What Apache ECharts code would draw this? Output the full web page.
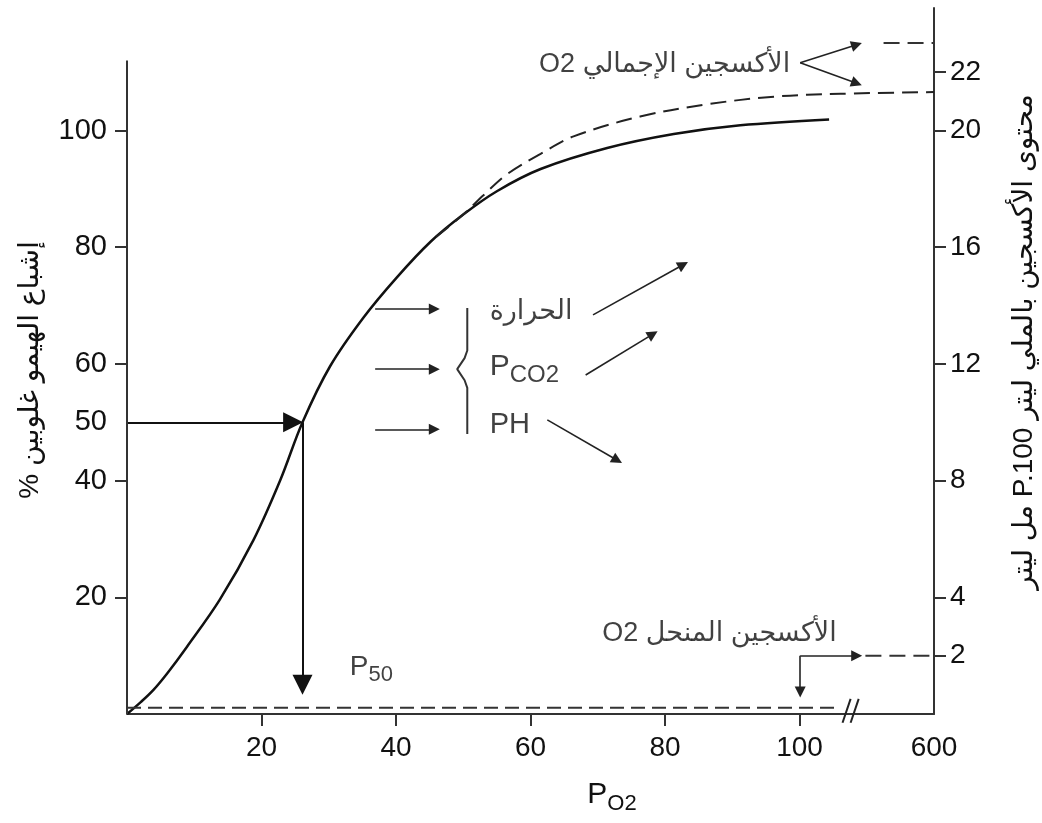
<!DOCTYPE html>
<html>
<head>
<meta charset="utf-8">
<script src="https://cdn.jsdelivr.net/npm/echarts@6/dist/echarts.min.js"></script>
<style>
html, body { margin: 0; padding: 0; background: #fff; }
#main { width: 1042px; height: 823px; }
</style>
</head>
<body>
<div id="main"></div>
<script>
// منحنى تفكك الهيموغلوبين: PO2 مقابل نسبة الإشباع %
var hbPo2 = [0, 2, 3.9, 6, 8.9, 13.8, 18.8, 22.8, 26.1, 30.2, 35.2, 40.1, 45.1, 50, 55, 61.5, 71.4, 81.3, 91.2, 104.4];
var hbSat = [0, 2.0, 4.1, 7.0, 11.5, 19.6, 29.8, 40.1, 50, 59.6, 68.0, 74.8, 80.9, 85.6, 89.6, 93.4, 97.0, 99.4, 100.9, 101.9];
// الأكسجين الإجمالي (متقطع)
var totalPo2 = [46, 50, 53, 56.5, 61.5, 66.4, 76.3, 86.3, 96.2, 106.1, 120];
var totalSat = [81.8, 85.6, 88.9, 92.5, 96.0, 99.0, 102.4, 104.5, 105.8, 106.3, 106.6];
// الأكسجين المنحل (متقطع قرب الصفر)
var dissolvedPo2 = [0, 105.5];
var dissolvedSat = [1.05, 1.05];
// مقاطع بعد الانقطاع (مل/100 مل)
var totalHighPo2 = [112.5, 120];
var totalHighMl = [23, 23];
var dissolvedHighPo2 = [109.8, 120];
var dissolvedHighMl = [2, 2];

// تدريجات المحاور
var xTicks = [20, 40, 60, 80, 100];
var xLabels = [20, 40, 60, 80, 100, 120]; // 120 يكتب 600 بعد الانقطاع
var leftTicks = [20, 40, 60, 80, 100];
var leftLabels = [20, 40, 50, 60, 80, 100];
var rightTicks = [2, 4, 8, 12, 16, 20, 22];
var leftAxisTop = 112;

// الأسهم
var p50Arrows = [[[0, 50], [24.7, 50]], [[26.1, 50], [26.1, 5.0]]];
var shiftArrows = [
	[[36.9, 69.4], [45.7, 69.4]],
	[[36.9, 59.1], [45.7, 59.1]],
	[[36.9, 48.8], [45.7, 48.8]],
	[[69.3, 68.4], [82.7, 77.0]],
	[[68.2, 58.1], [78.2, 65.1]],
	[[62.5, 50.4], [72.9, 43.5]],
	[[100.1, 111.6], [108.5, 114.7]],
	[[100.1, 111.6], [108.5, 108.1]]
];
var dissolvedArrows = [[[100.1, 2], [108.5, 2]], [[100.1, 2], [100.1, 0.75]]];
var breakMarks = [[[106.4, -1.5], [107.6, 2.6]], [[107.6, -1.5], [108.8, 2.6]]];
var bracePts = [[50.6, 69.6], [50.6, 62.3], [50.2, 61.0], [49.1, 59.1], [50.2, 57.2], [50.6, 55.9], [50.6, 48.0]];

var fontFam = '"Liberation Sans", Arial, "DejaVu Sans", sans-serif';
var ink = '#111';

function pairs(xs, ys) {
	return xs.map(function (x, i) { return [x, ys[i]]; });
}
function segs(list) {
	return list.map(function (c) { return { coords: c }; });
}

var chart = echarts.init(document.getElementById('main'));
chart.setOption({
	animation: false,
	backgroundColor: '#fff',
	textStyle: { fontFamily: fontFam, color: ink },
	grid: { left: 127, right: 108, top: 8, bottom: 109 },
	xAxis: {
		type: 'value',
		min: 0,
		max: 120,
		interval: 20,
		axisLine: { lineStyle: { color: '#333', width: 2 } },
		axisTick: { customValues: xTicks, length: 12, lineStyle: { color: '#333', width: 2 } },
		axisLabel: {
			customValues: xLabels,
			margin: 20,
			fontSize: 28,
			color: ink,
			formatter: function (v) { return v === 120 ? '600' : String(v); }
		},
		splitLine: { show: false }
	},
	yAxis: [
		{
			type: 'value',
			min: 0,
			max: 121,
			position: 'left',
			axisLine: { show: false },
			axisTick: { show: true, customValues: leftTicks, length: 12, lineStyle: { color: '#333', width: 2 } },
			axisLabel: { customValues: leftLabels, margin: 20, fontSize: 29, color: ink },
			splitLine: { show: false }
		},
		{
			type: 'value',
			min: 0,
			max: 24.2,
			position: 'right',
			axisLine: { show: true, onZero: false, lineStyle: { color: '#333', width: 2 } },
			axisTick: { show: true, customValues: rightTicks, length: 12, lineStyle: { color: '#333', width: 2 } },
			axisLabel: { customValues: rightTicks, margin: 16, fontSize: 28, color: ink },
			splitLine: { show: false }
		}
	],
	graphic: [
		{
			type: 'text', x: 30, y: 370, rotation: Math.PI / 2,
			style: { text: '% إشباع الهيمو غلوبين', fontSize: 28, fontFamily: fontFam, fill: ink, align: 'center', verticalAlign: 'middle' }
		},
		{
			type: 'text', x: 1024, y: 342, rotation: Math.PI / 2,
			style: { text: 'مل ليتر P.100 محتوى الأكسجين بالملي ليتر', fontSize: 28, fontFamily: fontFam, fill: ink, align: 'center', verticalAlign: 'middle' }
		},
		{
			type: 'text', x: 612, y: 795,
			style: {
				text: '{p|P}{s|O2}', fontFamily: fontFam, fill: ink, align: 'center', verticalAlign: 'middle',
				rich: { p: { fontSize: 30, fontFamily: fontFam, color: ink }, s: { fontSize: 22, fontFamily: fontFam, color: ink, padding: [18, 0, 0, 0] } }
			}
		}
	],
	series: [
		{
			name: 'saturation', type: 'line', data: pairs(hbPo2, hbSat),
			smooth: 0.35, symbol: 'none', silent: true,
			lineStyle: { color: '#111', width: 2.5 }
		},
		{
			name: 'total', type: 'line', data: pairs(totalPo2, totalSat),
			smooth: 0.35, symbol: 'none', silent: true,
			lineStyle: { color: '#222', width: 2, type: [16, 8] }
		},
		{
			name: 'dissolved', type: 'line', data: pairs(dissolvedPo2, dissolvedSat),
			symbol: 'none', silent: true,
			lineStyle: { color: '#333', width: 2, type: [14, 7] }
		},
		{
			name: 'totalHigh', type: 'line', yAxisIndex: 1, data: pairs(totalHighPo2, totalHighMl),
			symbol: 'none', silent: true,
			lineStyle: { color: '#333', width: 2, type: [16, 8] }
		},
		{
			name: 'dissolvedHigh', type: 'line', yAxisIndex: 1, data: pairs(dissolvedHighPo2, dissolvedHighMl),
			symbol: 'none', silent: true,
			lineStyle: { color: '#333', width: 2, type: [16, 8] }
		},
		{
			name: 'leftAxis', type: 'line', data: [[0, 0], [0, leftAxisTop]],
			symbol: 'none', silent: true, clip: false,
			lineStyle: { color: '#333', width: 2 }
		},
		{
			name: 'brace', type: 'line', data: bracePts,
			symbol: 'none', silent: true,
			lineStyle: { color: '#333', width: 2 }
		},
		{
			name: 'p50Arrows', type: 'lines', coordinateSystem: 'cartesian2d',
			symbol: ['none', 'triangle'], symbolSize: [0, 20], silent: true,
			lineStyle: { color: '#111', width: 2, opacity: 1, curveness: 0 },
			data: segs(p50Arrows)
		},
		{
			name: 'shiftArrows', type: 'lines', coordinateSystem: 'cartesian2d',
			symbol: ['none', 'triangle'], symbolSize: [0, 11], silent: true,
			lineStyle: { color: '#222', width: 1.6, opacity: 1, curveness: 0 },
			data: segs(shiftArrows)
		},
		{
			name: 'dissolvedArrows', type: 'lines', coordinateSystem: 'cartesian2d', yAxisIndex: 1,
			symbol: ['none', 'triangle'], symbolSize: [0, 11], silent: true,
			lineStyle: { color: '#222', width: 1.6, opacity: 1, curveness: 0 },
			data: segs(dissolvedArrows)
		},
		{
			name: 'break', type: 'lines', coordinateSystem: 'cartesian2d', clip: false,
			symbol: 'none', silent: true,
			lineStyle: { color: '#222', width: 2, opacity: 1, curveness: 0 },
			data: segs(breakMarks)
		},
		{
			name: 'notes', type: 'scatter', symbolSize: 1, silent: true,
			itemStyle: { color: 'rgba(0,0,0,0)' },
			label: { show: true, position: [0, 0], color: ink, fontFamily: fontFam, fontSize: 27, verticalAlign: 'middle' },
			data: [
				{ value: [98.7, 111.2], label: { formatter: 'O2 الأكسجين الإجمالي', align: 'right' } },
				{ value: [105.6, 13.7], label: { formatter: 'O2 الأكسجين المنحل', align: 'right' } },
				{ value: [54, 68.9], label: { formatter: 'الحرارة', align: 'left' } },
				{
					value: [54, 59.5],
					label: {
						formatter: '{p|P}{s|CO2}', align: 'left',
						rich: { p: { fontSize: 30, fontFamily: fontFam, color: ink }, s: { fontSize: 24, fontFamily: fontFam, color: ink, padding: [18, 0, 0, 0] } }
					}
				},
				{ value: [54, 49.4], label: { formatter: 'PH', align: 'left', fontSize: 29 } },
				{
					value: [33.2, 7.9],
					label: {
						formatter: '{p|P}{s|50}', align: 'left',
						rich: { p: { fontSize: 28, fontFamily: fontFam, color: ink }, s: { fontSize: 22, fontFamily: fontFam, color: ink, padding: [16, 0, 0, 0] } }
					}
				}
			]
		}
	]
});
</script>
</body>
</html>
